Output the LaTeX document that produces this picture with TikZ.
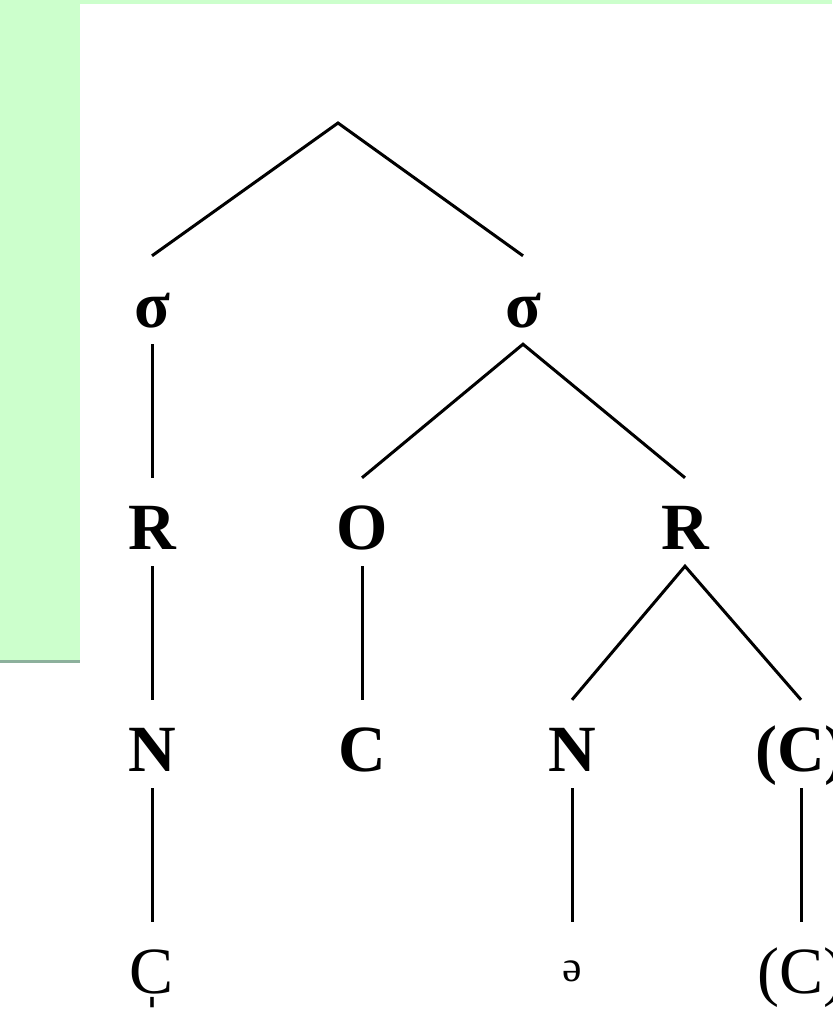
\documentclass[tikz,border=0pt]{standalone}
\usepackage{fontspec}
\setmainfont{Liberation Serif}
\usepackage{tikz}
\usetikzlibrary{positioning}
\usepackage{xcolor}
\definecolor{slgreen}{RGB}{204,255,204}
\definecolor{slline}{RGB}{140,176,156}
\tikzstyle{branch} = [line width=3pt, color=black]
\tikzstyle{seg} = [inner sep=0pt, text height=71pt, text depth=17pt, node distance=222pt, font=\fontsize{66}{70}\selectfont\bfseries]
\tikzstyle{segplain} = [seg, font=\fontsize{66}{70}\selectfont]

\begin{document}
\begin{tikzpicture}[x=1pt, y=-1pt]
\useasboundingbox (0,0) rectangle (832,1011);
% Background panel
\fill[slgreen] (0,0) rectangle (832,4);
\fill[slgreen] (0,0) rectangle (80,660);
\fill[slline] (0,660) rectangle (80,663);

% Syllables
\coordinate (root) at (338,123);
\node (sigl) [seg] at (152,300) {σ};
\node (sigr) [seg] at (523,300) {σ};

% Onsets and rhymes
\node (rhl) [seg, below of=sigl] {R};
\node (ons) [seg, below of=sigr, xshift=-161pt] {O};
\node (rhr) [seg, below of=sigr, xshift=162pt] {R};

% Nuclei and codas
\node (nul) [seg, below of=rhl] {N};
\node (onc) [seg, below of=ons] {C};
\node (nur) [seg, below of=rhr, xshift=-113pt] {N};
\node (cod) [seg, below of=rhr, xshift=116pt] {(C)};

% Segments
\node (sylc) [segplain, below of=nul] {\ooalign{C\cr\hfil ˌ\hfil\cr}};
\node (schwa) [segplain, below of=nur] {\raisebox{12pt}{\fontsize{44}{44}\selectfont ə}};
\node (codc) [segplain, below of=cod] {(C)};

% Branches
\draw[branch] (sigl.north) -- (root) -- (sigr.north);
\draw[branch] (sigl.south) -- (rhl.north);
\draw[branch] (ons.north) -- (sigr.south) -- (rhr.north);
\draw[branch] (rhl.south) -- (nul.north);
\draw[branch] (ons.south) -- (onc.north);
\draw[branch] (nur.north) -- (rhr.south) -- (cod.north);
\draw[branch] (nul.south) -- (sylc.north);
\draw[branch] (nur.south) -- (schwa.north);
\draw[branch] (cod.south) -- (codc.north);
\end{tikzpicture}
\end{document}
